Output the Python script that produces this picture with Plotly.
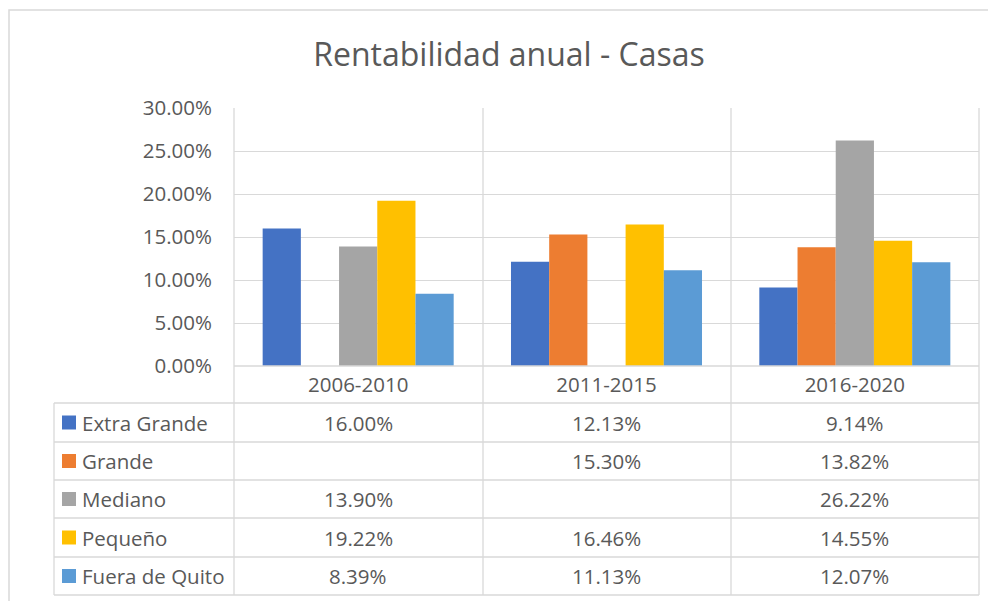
import plotly.graph_objects as go

# ---- data ----
categories = ["2006-2010", "2011-2015", "2016-2020"]
series_names = ["Extra Grande", "Grande", "Mediano", "Pequeño", "Fuera de Quito"]
extra_grande = [0.1600, 0.1213, 0.0914]
grande = [None, 0.1530, 0.1382]
mediano = [0.1390, None, 0.2622]
pequeno = [0.1922, 0.1646, 0.1455]
fuera_quito = [0.0839, 0.1113, 0.1207]
colors = ["#4472C4", "#ED7D31", "#A5A5A5", "#FFC000", "#5B9BD5"]
y_ticks = [0, 0.05, 0.10, 0.15, 0.20, 0.25, 0.30]
title_text = "Rentabilidad anual - Casas"

series_values = [extra_grande, grande, mediano, pequeno, fuera_quito]

# ---- layout geometry (screen pixels; page body has an 8px margin) ----
OFF = 8
W, H = 996 - OFF, 601 - OFF
L, R, T, B = 234, 979, 108, 366
FONT = "Open Sans"
TXT = "#595959"
GRID = "#d9d9d9"


def px(x):
    return (x - L) / (R - L)


def py(y):
    return (B - y) / (B - T)


fig = go.Figure()
for name, vals, col in zip(series_names, series_values, colors):
    fig.add_trace(go.Bar(x=categories, y=vals, name=name, marker_color=col,
                         marker_line_width=0))

shapes = []
line = dict(color=GRID, width=1.3)
row_edges = [403, 442, 480, 518, 557, 595]
shapes.append(dict(type="line", xref="paper", yref="paper", x0=px(L), x1=px(R),
                   y0=py(B), y1=py(B), line=line))
for ye in row_edges:
    shapes.append(dict(type="line", xref="paper", yref="paper", x0=px(54), x1=px(R),
                       y0=py(ye), y1=py(ye), line=line))
for xe in [L, 483, 731, R]:
    shapes.append(dict(type="line", xref="paper", yref="paper", x0=px(xe), x1=px(xe),
                       y0=py(T), y1=py(595), line=line))
shapes.append(dict(type="line", xref="paper", yref="paper", x0=px(54), x1=px(54),
                   y0=py(403), y1=py(595), line=line))
# outer chart border
shapes.append(dict(type="rect", xref="paper", yref="paper", x0=px(9), x1=px(1010),
                   y0=py(10), y1=py(615), line=dict(color=GRID, width=1.5)))

annotations = []
row_centers = [(a + b) / 2 for a, b in zip(row_edges[:-1], row_edges[1:])]
for i, (name, vals, col) in enumerate(zip(series_names, series_values, colors)):
    yc = row_centers[i]
    shapes.append(dict(type="rect", xref="paper", yref="paper", x0=px(62), x1=px(76),
                       y0=py(yc - 7), y1=py(yc + 7), fillcolor=col, line=dict(width=0)))
    annotations.append(dict(text=name, xref="paper", yref="paper", x=px(80), y=py(yc),
                            xanchor="left", yanchor="middle", showarrow=False,
                            font=dict(family=FONT, size=20.5, color=TXT)))
    for cat, v in zip(categories, vals):
        if v is None:
            continue
        annotations.append(dict(text=f"{v * 100:.2f}%", xref="x", yref="paper", x=cat,
                                y=py(yc), xanchor="center", yanchor="middle", showarrow=False,
                                font=dict(family=FONT, size=20.5, color=TXT)))

fig.update_layout(
    width=W, height=H,
    margin=dict(l=L - OFF, r=W - (R - OFF), t=T - OFF, b=H - (B - OFF), pad=0),
    paper_bgcolor="white", plot_bgcolor="white",
    barmode="group", bargap=0.2308, bargroupgap=0,
    showlegend=False,
    title=dict(text=title_text, x=(509 - OFF) / W, xref="container", xanchor="center",
               y=1 - (55 - OFF) / H, yref="container", yanchor="middle",
               font=dict(family=FONT, size=32, color=TXT)),
    font=dict(family=FONT, color=TXT),
    shapes=shapes, annotations=annotations,
)
fig.update_yaxes(range=[0, 0.30], tickvals=y_ticks, tickformat=".2%",
                 showgrid=True, gridcolor=GRID, gridwidth=1.3, zeroline=False,
                 showline=False, ticks="", ticklabelstandoff=21,
                 tickfont=dict(family=FONT, size=20.5, color=TXT))
fig.update_xaxes(showgrid=False, zeroline=False, showline=False, ticks="",
                 ticklabelstandoff=4,
                 tickfont=dict(family=FONT, size=20.5, color=TXT))

fig.write_html("out.html")
